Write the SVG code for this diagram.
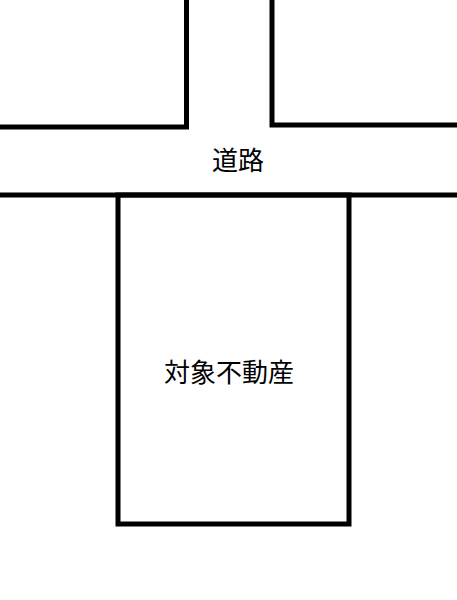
<svg xmlns="http://www.w3.org/2000/svg" width="457" height="600" viewBox="0 0 457 600">
<style>
.ln{fill:none;stroke:#000;stroke-width:5}
.t{font-family:"Noto Sans CJK JP","Noto Sans CJK SC",sans-serif;font-size:26px;fill:#000;text-anchor:middle}
</style>
<rect width="457" height="600" fill="#fff"/>
<g id="block-left"><path class="ln" d="M0 127H186.5V0"/></g>
<g id="block-right"><path class="ln" d="M457 125H272V0"/></g>
<g id="road"><path class="ln" d="M0 195H457"/><text class="t" x="238" y="170">道路</text></g>
<g id="property"><rect class="ln" x="118" y="195" width="231" height="329"/><text class="t" x="229" y="382">対象不動産</text></g>
<g id="connectors"/>
</svg>
